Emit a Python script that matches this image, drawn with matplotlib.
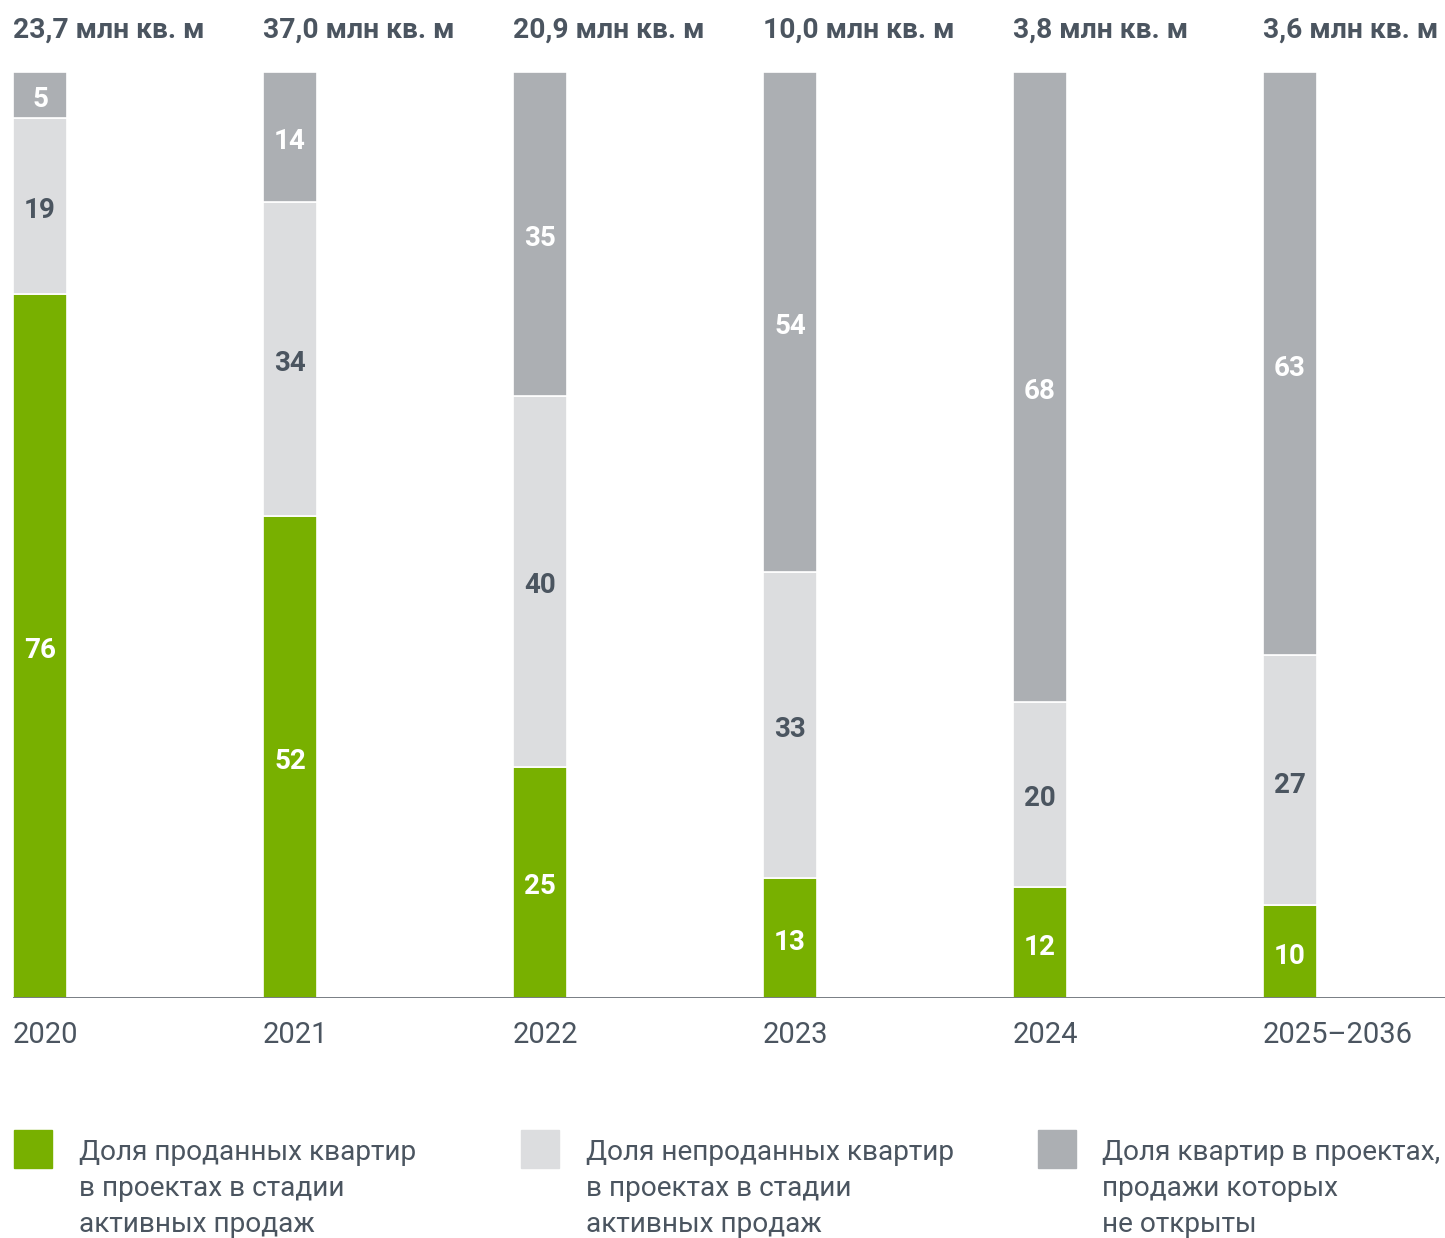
import matplotlib.pyplot as plt
import numpy as np

years = ['2020', '2021', '2022', '2023', '2024', '2025–2036']
totals = ['23,7 млн кв. м', '37,0 млн кв. м', '20,9 млн кв. м',
          '10,0 млн кв. м', '3,8 млн кв. м', '3,6 млн кв. м']
sold = [76, 52, 25, 13, 12, 10]
unsold = [19, 34, 40, 33, 20, 27]
not_open = [5, 14, 35, 54, 68, 63]

series_names = ['Доля проданных квартир\nв проектах в стадии\nактивных продаж',
                'Доля непроданных квартир\nв проектах в стадии\nактивных продаж',
                'Доля квартир в проектах,\nпродажи которых\nне открыты']

GREEN = '#78b000'
LIGHT = '#dcdddf'
DARK = '#acafb3'
TEXT = '#4b5560'

plt.rcParams['font.family'] = ['Roboto', 'DejaVu Sans']

fig = plt.figure(figsize=(14.45, 12.38), dpi=100)
W, H = 1445, 1238
ax = fig.add_axes([13 / W, (H - 998) / H, 1 - 13 / W, (998 - 72) / H])

x = np.arange(len(years))
bw = 54 / 250

layers = [(sold, GREEN, 'white'), (unsold, LIGHT, TEXT), (not_open, DARK, 'white')]
bottom = np.zeros(len(years))
for vals, col, tcol in layers:
    vals = np.array(vals)
    ax.bar(x, vals, bw, bottom=bottom, align='edge', color=col,
           edgecolor='white', linewidth=1.2)
    for xi, b, v in zip(x, bottom, vals):
        ax.text(xi + bw / 2, b + v / 2 - 0.5, str(v), ha='center', va='center',
                color=tcol, fontsize=20, fontweight='bold')
    bottom += vals

ax.set_xlim(0, (W - 13) / 250)
ax.set_ylim(0, 100)
ax.axhline(0, color='#6b7178', linewidth=2, zorder=5)
ax.axis('off')

# totals above bars
for xi, t in zip(x, totals):
    ax.text(xi, 104.5, t, ha='left', va='center', color=TEXT,
            fontsize=20.3, fontweight='bold', clip_on=False)

# year labels under baseline
for xi, yr in zip(x, years):
    ax.text(xi, -4.0, yr, ha='left', va='center', color=TEXT,
            fontsize=21, fontweight='normal', clip_on=False)

# legend
leg_x = [14, 521, 1038]
leg_txt = [79, 586, 1102]
for lx, tx, col, name in zip(leg_x, leg_txt, [GREEN, LIGHT, DARK], series_names):
    fig.patches.append(plt.Rectangle((lx / W, (H - 1168) / H), 38 / W, 38 / H,
                                     transform=fig.transFigure, color=col))
    fig.text(tx / W, (H - 1139) / H, name, ha='left', va='top', color=TEXT,
             fontsize=20.2, fontweight='normal', linespacing=1.42)

fig.savefig('out.png', dpi=100)
